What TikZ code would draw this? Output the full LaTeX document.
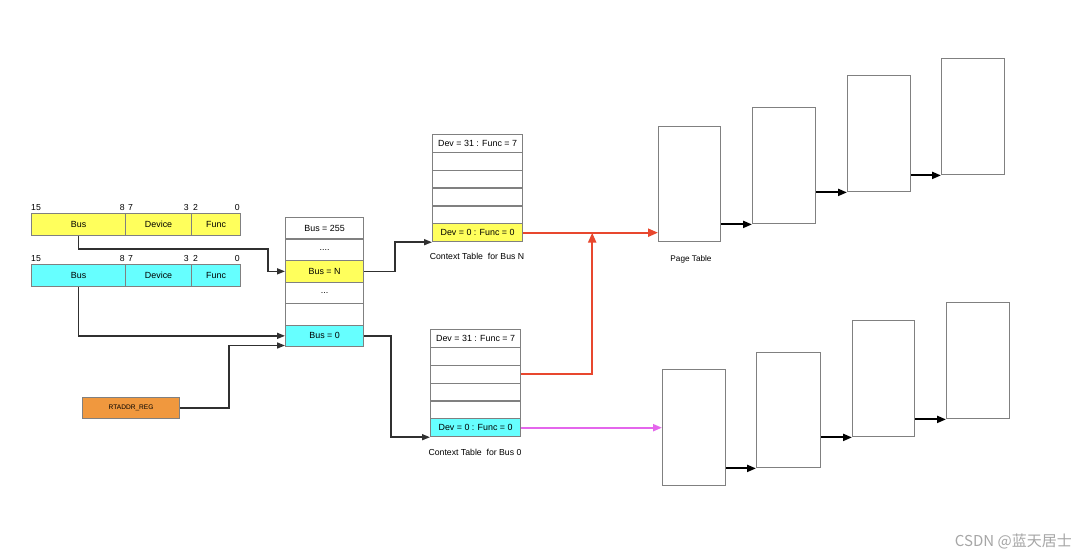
\documentclass[tikz,border=0pt]{standalone}
\usepackage{fontspec}
\setmainfont{Liberation Sans}
\newfontfamily\cjk{Noto Sans CJK SC}
\usetikzlibrary{arrows.meta,calc}
\definecolor{byel}{HTML}{FFFF5C}
\definecolor{bcyan}{HTML}{66FFFF}
\definecolor{borange}{HTML}{F0983E}
\definecolor{bred}{HTML}{E8472E}
\definecolor{bmag}{HTML}{E466EC}
\definecolor{bgrey}{HTML}{808080}
\definecolor{bline}{HTML}{303030}
\tikzset{
  cell/.style={draw=bgrey,line width=1.2pt,inner sep=0pt,anchor=north west,font=\fontsize{8.9}{10}\selectfont},
  pbox/.style={draw=bgrey,line width=1.4pt,inner sep=0pt,anchor=north west},
  conn/.style={draw=bline,line width=1.5pt,-{Triangle[length=8pt,width=6pt]}},
  chain/.style={draw=black,line width=2pt,-{Triangle[length=9pt,width=7pt]}},
  redc/.style={draw=bred,line width=2.2pt,-{Triangle[length=10pt,width=8pt]}},
  magc/.style={draw=bmag,line width=2pt,-{Triangle[length=9pt,width=7pt]}},
  lab/.style={font=\fontsize{8.7}{10}\selectfont,inner sep=1pt},
}
\begin{document}
\begin{tikzpicture}[x=1pt,y=-1pt]
\useasboundingbox[fill=white] (0,0) rectangle (1080,559);
% Bus/Device/Func fields
\node[cell,fill=byel,minimum width=94,minimum height=22] (yb) at (31,213) {Bus};
\node[cell,fill=byel,minimum width=66,minimum height=22] (yd) at (125,213) {Device};
\node[cell,fill=byel,minimum width=49,minimum height=22] (yf) at (191,213) {Func};
\node[cell,fill=bcyan,minimum width=94,minimum height=22] (cb) at (31,264) {Bus};
\node[cell,fill=bcyan,minimum width=66,minimum height=22] (cd) at (125,264) {Device};
\node[cell,fill=bcyan,minimum width=49,minimum height=22] (cf) at (191,264) {Func};
\foreach \r/\yy in {y/212,c/263}{
  \node[lab,anchor=south west] (\r n15) at (30,\yy) {15};
  \node[lab,anchor=south east] (\r n8) at (126,\yy) {8};
  \node[lab,anchor=south west] (\r n7) at (127,\yy) {7};
  \node[lab,anchor=south east] (\r n3) at (190,\yy) {3};
  \node[lab,anchor=south west] (\r n2) at (192,\yy) {2};
  \node[lab,anchor=south east] (\r n0) at (241,\yy) {0};
}
% RTADDR_REG
\node[cell,fill=borange,minimum width=97,minimum height=21,font=\fontsize{6.6}{8}\selectfont] (rt) at (82,397) {RTADDR\_REG};
% Bus table
\node[cell,minimum width=78,minimum height=21.5] (b255) at (285,217) {Bus = 255};
\node[cell,minimum width=78,minimum height=21.5] (bd1) at (285,238.5) {....};
\node[cell,fill=byel,minimum width=78,minimum height=21.5] (busN) at (285,260) {Bus = N};
\node[cell,minimum width=78,minimum height=21.5] (bd2) at (285,281.5) {...};
\node[cell,minimum width=78,minimum height=21.5] (be) at (285,303) {};
\node[cell,fill=bcyan,minimum width=78,minimum height=21.5] (bus0) at (285,324.5) {Bus = 0};
% Context table N
\node[cell,minimum width=90,minimum height=17.83] (cN5) at (432,134) {Dev = 31 : Func = 7};
\node[cell,minimum width=90,minimum height=17.83] (cN4) at (432,151.83) {};
\node[cell,minimum width=90,minimum height=17.83] (cN3) at (432,169.67) {};
\node[cell,minimum width=90,minimum height=17.83] (cN2) at (432,187.5) {};
\node[cell,minimum width=90,minimum height=17.83] (cN1) at (432,205.33) {};
\node[cell,fill=byel,minimum width=90,minimum height=17.83] (cN0) at (432,223.17) {Dev = 0 : Func = 0};
\node[lab] (capN) at (477,256) {Context Table \ for Bus N};
% Context table 0
\node[cell,minimum width=90,minimum height=17.83] (c05) at (430,329) {Dev = 31 : Func = 7};
\node[cell,minimum width=90,minimum height=17.83] (c04) at (430,346.83) {};
\node[cell,minimum width=90,minimum height=17.83] (c03) at (430,364.67) {};
\node[cell,minimum width=90,minimum height=17.83] (c02) at (430,382.5) {};
\node[cell,minimum width=90,minimum height=17.83] (c01) at (430,400.33) {};
\node[cell,fill=bcyan,minimum width=90,minimum height=17.83] (c00) at (430,418.17) {Dev = 0 : Func = 0};
\node[lab] (cap0) at (475,452) {Context Table \ for Bus 0};
% Page tables (top)
\node[pbox,minimum width=62,minimum height=115] (p1) at (658,126) {};
\node[pbox,minimum width=63,minimum height=116] (p2) at (752,107) {};
\node[pbox,minimum width=63,minimum height=116] (p3) at (847,75) {};
\node[pbox,minimum width=63,minimum height=116] (p4) at (941,58) {};
\node[lab,font=\fontsize{8.2}{10}\selectfont] (ptl) at (691,259) {Page Table};
% Page tables (bottom)
\node[pbox,minimum width=63,minimum height=116] (q1) at (662,369) {};
\node[pbox,minimum width=64,minimum height=115] (q2) at (756,352) {};
\node[pbox,minimum width=62,minimum height=116] (q3) at (852,320) {};
\node[pbox,minimum width=63,minimum height=116] (q4) at (946,302) {};
% connectors
\coordinate (j1) at (268,249);
\draw[conn] (yb.south) |- (j1) |- (busN.west);
\draw[conn] (cb.south) |- (bus0.west);
\coordinate (r1) at (229,345.5);
\draw[conn] (rt.east) -| (r1) -- (r1 -| bus0.west);
\draw[conn] (busN.east) -| ($(cN0.south west)+(-37,0)$) -- (cN0.south west);
\draw[conn] (bus0.east) -| ($(c00.south west)+(-39,0)$) -- (c00.south west);
\draw[redc] (cN0.east) -- (cN0.east -| p1.west);
\coordinate (rj) at ($(cN0.east)+(69,0)$);
\draw[redc] (c03.east) -| (rj);
\draw[magc] (c00.east) -- (c00.east -| q1.west);
\draw[chain] (p2.south west -| p1.east) -- (p2.south west);
\draw[chain] (p3.south west -| p2.east) -- (p3.south west);
\draw[chain] (p4.south west -| p3.east) -- (p4.south west);
\draw[chain] (q2.south west -| q1.east) -- (q2.south west);
\draw[chain] (q3.south west -| q2.east) -- (q3.south west);
\draw[chain] (q4.south west -| q3.east) -- (q4.south west);
% watermark
\node[text=black!35,font=\cjk\fontsize{15}{18}\selectfont,anchor=east,inner sep=0pt] (wm) at (1072,541) {CSDN @蓝天居士};
\end{tikzpicture}
\end{document}
